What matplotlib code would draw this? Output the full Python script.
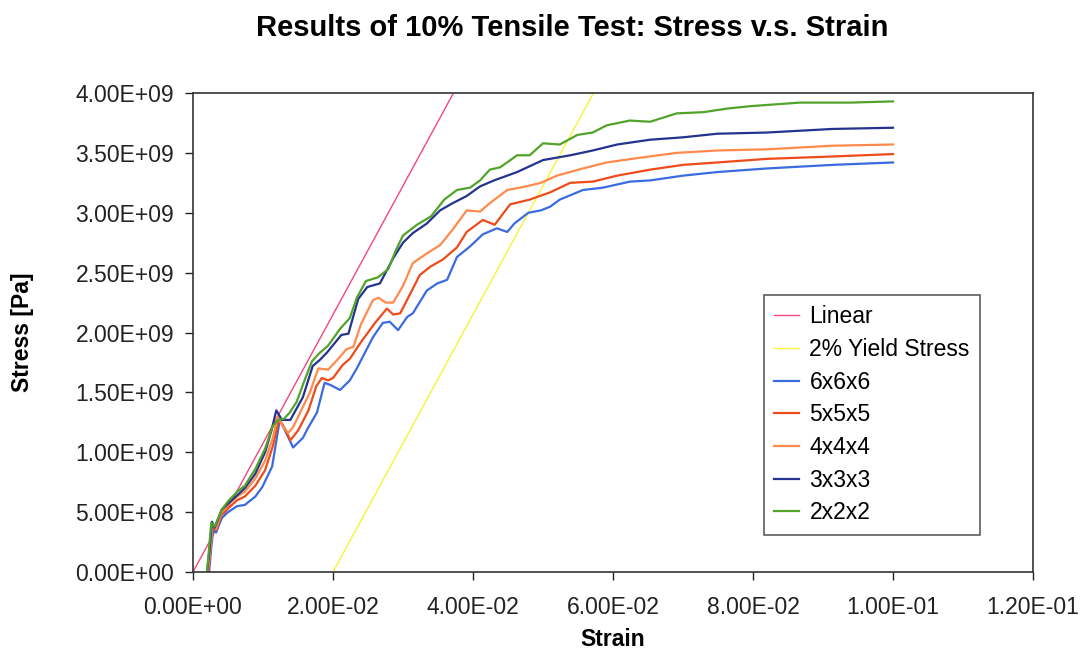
import numpy as np
import matplotlib
matplotlib.use('Agg')
import matplotlib.pyplot as plt
from matplotlib.ticker import FuncFormatter, MultipleLocator

plt.rcParams['font.family'] = ['Liberation Sans', 'DejaVu Sans']

# elastic modulus of the linear fit [Pa]
E = 1.075e11
linear_strain = [0.0, 0.0372]
yield_strain = [0.02, 0.0572]   # 2% offset line

# 6x6x6
strain_6 = [0.0023, 0.0026, 0.0029, 0.0033, 0.0041, 0.0050, 0.0063, 0.0074, 0.0089, 0.0099,
            0.0113, 0.0124, 0.0130, 0.0143, 0.0157, 0.0164, 0.0177, 0.0188, 0.0197, 0.0210,
            0.0224, 0.0234, 0.0249, 0.0257, 0.0271, 0.0281, 0.0293, 0.0306, 0.0314, 0.0334,
            0.0349, 0.0363, 0.0377, 0.0396, 0.0414, 0.0434, 0.0449, 0.0459, 0.0479, 0.0497,
            0.0510, 0.0524, 0.0557, 0.0586, 0.0624, 0.0653, 0.0700, 0.0749, 0.0820, 0.0914, 0.1000]
stress_6 = [0.00, 0.20, 0.36, 0.33, 0.45, 0.50, 0.55, 0.56, 0.63, 0.71,
            0.88, 1.27, 1.20, 1.04, 1.12, 1.20, 1.33, 1.58, 1.56, 1.52,
            1.60, 1.70, 1.87, 1.96, 2.08, 2.09, 2.02, 2.13, 2.16, 2.35,
            2.41, 2.44, 2.63, 2.72, 2.82, 2.87, 2.84, 2.91, 3.00, 3.02,
            3.05, 3.11, 3.19, 3.21, 3.26, 3.27, 3.31, 3.34, 3.37, 3.40, 3.42]

# 5x5x5
strain_5 = [0.0022, 0.0025, 0.0028, 0.0033, 0.0041, 0.0050, 0.0063, 0.0074, 0.0089, 0.0103,
            0.0114, 0.0123, 0.0131, 0.0139, 0.0150, 0.0165, 0.0176, 0.0184, 0.0193, 0.0200,
            0.0214, 0.0224, 0.0240, 0.0260, 0.0277, 0.0286, 0.0296, 0.0310, 0.0324, 0.0339,
            0.0357, 0.0377, 0.0391, 0.0414, 0.0431, 0.0453, 0.0481, 0.0510, 0.0539, 0.0571,
            0.0606, 0.0653, 0.0700, 0.0749, 0.0820, 0.0914, 0.1000]
stress_5 = [0.00, 0.20, 0.38, 0.35, 0.48, 0.53, 0.60, 0.63, 0.72, 0.85,
            1.05, 1.28, 1.20, 1.10, 1.18, 1.35, 1.55, 1.62, 1.60, 1.62,
            1.73, 1.78, 1.92, 2.08, 2.20, 2.15, 2.16, 2.32, 2.48, 2.55,
            2.61, 2.71, 2.84, 2.94, 2.90, 3.07, 3.11, 3.17, 3.25, 3.26,
            3.31, 3.36, 3.40, 3.42, 3.45, 3.47, 3.49]

# 4x4x4
strain_4 = [0.0021, 0.0025, 0.0028, 0.0033, 0.0041, 0.0050, 0.0063, 0.0074, 0.0089, 0.0103,
            0.0114, 0.0121, 0.0128, 0.0136, 0.0143, 0.0153, 0.0167, 0.0179, 0.0193, 0.0206,
            0.0219, 0.0229, 0.0240, 0.0257, 0.0265, 0.0275, 0.0286, 0.0300, 0.0314, 0.0334,
            0.0353, 0.0371, 0.0391, 0.0410, 0.0424, 0.0449, 0.0476, 0.0497, 0.0520, 0.0557,
            0.0591, 0.0639, 0.0691, 0.0749, 0.0820, 0.0914, 0.1000]
stress_4 = [0.00, 0.20, 0.40, 0.36, 0.50, 0.56, 0.63, 0.67, 0.78, 0.93,
            1.12, 1.30, 1.22, 1.16, 1.21, 1.33, 1.50, 1.70, 1.69, 1.77,
            1.86, 1.88, 2.07, 2.27, 2.29, 2.25, 2.25, 2.39, 2.58, 2.66,
            2.73, 2.86, 3.02, 3.01, 3.08, 3.19, 3.22, 3.25, 3.31, 3.37,
            3.42, 3.46, 3.50, 3.52, 3.53, 3.56, 3.57]

# 3x3x3
strain_3 = [0.0020, 0.0024, 0.0027, 0.0031, 0.0041, 0.0050, 0.0063, 0.0074, 0.0089, 0.0103,
            0.0112, 0.0119, 0.0127, 0.0139, 0.0157, 0.0171, 0.0181, 0.0191, 0.0212, 0.0222,
            0.0236, 0.0249, 0.0267, 0.0286, 0.0300, 0.0314, 0.0334, 0.0353, 0.0371, 0.0391,
            0.0410, 0.0430, 0.0463, 0.0500, 0.0539, 0.0571, 0.0606, 0.0653, 0.0700, 0.0749,
            0.0820, 0.0914, 0.1000]
stress_3 = [0.00, 0.20, 0.42, 0.37, 0.52, 0.57, 0.64, 0.70, 0.82, 1.00,
            1.18, 1.35, 1.27, 1.27, 1.46, 1.72, 1.77, 1.83, 1.98, 1.99,
            2.28, 2.38, 2.41, 2.62, 2.75, 2.83, 2.91, 3.02, 3.08, 3.14,
            3.22, 3.27, 3.34, 3.44, 3.48, 3.52, 3.57, 3.61, 3.63, 3.66,
            3.67, 3.70, 3.71]

# 2x2x2
strain_2 = [0.0020, 0.0023, 0.0026, 0.0031, 0.0041, 0.0050, 0.0063, 0.0074, 0.0089, 0.0103,
            0.0114, 0.0122, 0.0130, 0.0138, 0.0148, 0.0158, 0.0170, 0.0181, 0.0193, 0.0210,
            0.0224, 0.0234, 0.0247, 0.0264, 0.0279, 0.0290, 0.0300, 0.0320, 0.0340, 0.0359,
            0.0377, 0.0396, 0.0410, 0.0424, 0.0439, 0.0463, 0.0481, 0.0500, 0.0524, 0.0549,
            0.0571, 0.0591, 0.0624, 0.0653, 0.0691, 0.0729, 0.0763, 0.0796, 0.0867, 0.0939, 0.1000]
stress_2 = [0.00, 0.20, 0.41, 0.38, 0.52, 0.59, 0.67, 0.72, 0.86, 1.03,
            1.22, 1.27, 1.28, 1.33, 1.42, 1.58, 1.76, 1.83, 1.89, 2.03,
            2.12, 2.29, 2.43, 2.46, 2.53, 2.69, 2.81, 2.90, 2.97, 3.11,
            3.19, 3.21, 3.27, 3.36, 3.38, 3.48, 3.48, 3.58, 3.57, 3.65,
            3.67, 3.73, 3.77, 3.76, 3.83, 3.84, 3.87, 3.89, 3.92, 3.92, 3.93]

curves = [('6x6x6', strain_6, stress_6, '#3A6BE0'),
          ('5x5x5', strain_5, stress_5, '#EE4A1A'),
          ('4x4x4', strain_4, stress_4, '#FF8A4C'),
          ('3x3x3', strain_3, stress_3, '#23338F'),
          ('2x2x2', strain_2, stress_2, '#52A32A')]

fig = plt.figure(figsize=(10.8, 6.55), dpi=100)
ax = fig.add_axes([0.1787, 0.1267, 0.7778, 0.7313])

ls = np.array(linear_strain)
ys = np.array(yield_strain)
ax.plot(ls, E * ls, color='#F0487A', lw=1.0, label='Linear')
ax.plot(ys, E * (ys - 0.02), color='#F8F238', lw=1.0, label='2% Yield Stress')
for name, s, p, c in curves:
    ax.plot(s, np.array(p) * 1e9, color=c, lw=1.6, label=name)

ax.set_xlim(0, 0.12)
ax.set_ylim(0, 4e9)
ax.xaxis.set_major_locator(MultipleLocator(0.02))
ax.yaxis.set_major_locator(MultipleLocator(5e8))
fmt = FuncFormatter(lambda v, pos: '%.2E' % v)
ax.xaxis.set_major_formatter(fmt)
ax.yaxis.set_major_formatter(fmt)
ax.tick_params(direction='out', length=5.5, width=1, labelsize=16.5, pad=8, colors='#222222')
ax.tick_params(axis='x', pad=12)
for sp in ax.spines.values():
    sp.set_color('#333333')
    sp.set_linewidth(1.2)

ax.set_xlabel('Strain', fontsize=16.5, fontweight='bold', labelpad=6)
ax.set_ylabel('Stress [Pa]', fontsize=16.5, fontweight='bold', labelpad=30)
fig.text(0.53, 0.958, 'Results of 10% Tensile Test: Stress v.s. Strain',
         fontsize=21, fontweight='bold', ha='center', va='center')

leg = ax.legend(loc='upper right', bbox_to_anchor=(0.937, 0.578), fontsize=16.5, frameon=True,
                fancybox=False, edgecolor='#333333', handlelength=1.1, handletextpad=0.45,
                labelspacing=0.42, borderpad=0.45, borderaxespad=0)
leg.get_frame().set_linewidth(1.2)

fig.savefig('out.png', dpi=100)
